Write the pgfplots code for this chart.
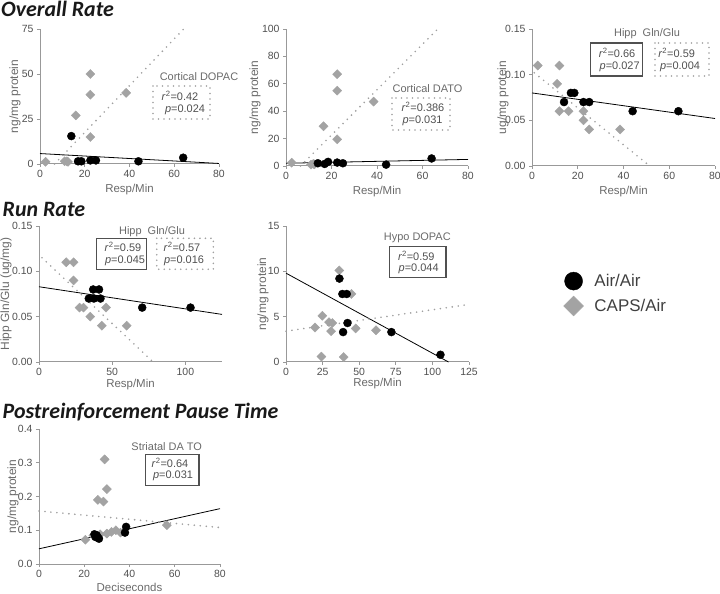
\documentclass[border=0pt]{standalone}
\usepackage{fontspec}
\setmainfont{Liberation Sans}
\newfontfamily\titlefont{Carlito}
\usepackage{pgfplots}
\pgfplotsset{compat=1.18}
\definecolor{axgray}{HTML}{999999}
\definecolor{tickgray}{HTML}{505050}
\definecolor{labgray}{HTML}{6A6A6A}
\definecolor{diagray}{HTML}{A3A3A3}
\definecolor{dotgray}{HTML}{A0A0A0}
\definecolor{boxgray}{HTML}{505050}
\pgfplotsset{
  gp/.style={
    scale only axis, axis lines=left,
    axis line style={-, draw=axgray, line width=1pt},
    tick align=outside, major tick length=3bp,
    tick style={draw=axgray, line width=0.8pt},
    tick label style={font=\fontsize{10.5}{12}\selectfont, text=tickgray},
    /pgf/number format/assume math mode=true,
    clip=false, scaled ticks=false,
    every axis x label/.style={at={(axis description cs:0.5,0)}, anchor=center, yshift=-26bp, font=\fontsize{11.5}{13}\selectfont, text=labgray},
    every axis y label/.style={at={(axis description cs:0,0.5)}, rotate=90, anchor=center, font=\fontsize{12}{14}\selectfont, text=labgray},
  },
  blk/.style={only marks, mark=*, mark size=4bp, mark options={fill=black, draw=black}},
  gry/.style={only marks, mark=square*, mark size=3.2bp, mark options={rotate=45, fill=diagray, draw=diagray}},
  sol/.style={no marks, draw=black, line width=0.8pt},
  dots/.style={no marks, draw=dotgray, line width=1.8bp, line cap=round, dash pattern=on 0bp off 6bp},
}
\tikzset{
  dbox/.style={draw=dotgray, line width=1.8bp, line cap=round, dash pattern=on 0bp off 5.5bp},
  sbox/.style={draw=boxgray, line width=1.1pt},
  ann/.style={font=\fontsize{11}{13}\selectfont, text=labgray, inner sep=0pt},
  stat/.style={font=\fontsize{11}{13}\selectfont, text=tickgray, inner sep=0pt},
  ttl/.style={font=\titlefont\bfseries\itshape\fontsize{22}{26}\selectfont, text=black!90, inner sep=0pt, anchor=base west},
}
\begin{document}
\begin{tikzpicture}
\path[use as bounding box] (0,0) rectangle (720bp,594bp);

% Titles
\node[ttl] at (1bp,577.3bp) {Overall Rate};
\node[ttl] at (2.5bp,377bp) {Run Rate};
\node[ttl] at (2.5bp,175.5bp) {Postreinforcement Pause Time};

% P1 Cortical DOPAC
\begin{axis}[gp, at={(40bp,430bp)}, anchor=south west, width=179bp, height=135bp,
  xmin=0, xmax=80, ymin=0, ymax=75, xtick={0,20,40,60,80}, ytick={0,25,50,75},
  xlabel={Resp/Min}, ylabel={ng/mg protein}, every axis y label/.append style={yshift=25bp}]
\addplot[sol] coordinates {(0,5.8) (80,0.3)};
\addplot[dots] coordinates {(6.5,0) (64.2,75)};
\addplot[gry] coordinates {(2.5,1.2) (11,1.5) (12,1.5) (12.5,1.2) (16,27) (22.5,50) (22.5,38.5) (22.5,15) (38.5,39.5)};
\addplot[blk] coordinates {(14,15.5) (17,1.5) (18.5,1.5) (22.5,2) (25,2) (44,1.5) (64,3.5)};
\end{axis}

% P2 Cortical DATO
\begin{axis}[gp, at={(286bp,428bp)}, anchor=south west, width=182bp, height=137bp,
  xmin=0, xmax=80, ymin=0, ymax=100, xtick={0,20,40,60,80}, ytick={0,20,40,60,80,100},
  xlabel={Resp/Min}, ylabel={ng/mg protein}, every axis y label/.append style={yshift=31bp}]
\addplot[sol] coordinates {(0,2) (80,4.8)};
\addplot[dots] coordinates {(6.4,0) (66.7,100)};
\addplot[gry] coordinates {(2.5,2.4) (11,1) (12,1.5) (12.5,1.2) (16.5,29) (22.5,67) (22.5,55) (22.5,19.5) (38.5,47)};
\addplot[blk] coordinates {(14,2) (17,1.5) (18.5,3) (22.5,2.5) (25,2) (44,1) (64,5.5)};
\end{axis}

% P3 Hipp Gln/Glu
\begin{axis}[gp, at={(532bp,428bp)}, anchor=south west, width=183bp, height=137bp,
  xmin=0, xmax=80, ymin=0, ymax=0.15, xtick={0,20,40,60,80}, ytick={0,0.05,0.10,0.15},
  yticklabel style={/pgf/number format/fixed, /pgf/number format/fixed zerofill, /pgf/number format/precision=2},
  xlabel={Resp/Min}, ylabel={ug/mg protein}, every axis y label/.append style={yshift=29bp}]
\addplot[sol] coordinates {(0,0.080) (80,0.052)};
\addplot[dots] coordinates {(1,0.102) (50.5,0.002)};
\addplot[gry] coordinates {(2.5,0.11) (11,0.09) (12,0.11) (12,0.06) (16,0.06) (22.5,0.06) (22.5,0.05) (25,0.04) (38.5,0.04)};
\addplot[blk] coordinates {(14,0.07) (17,0.08) (18.5,0.08) (22.5,0.07) (25,0.07) (44,0.06) (64,0.06)};
\end{axis}

% P4 Run rate Hipp Gln/Glu
\begin{axis}[gp, at={(39bp,232bp)}, anchor=south west, width=183bp, height=136bp,
  xmin=0, xmax=125, ymin=0, ymax=0.15, xtick={0,50,100}, ytick={0,0.05,0.10,0.15},
  yticklabel style={/pgf/number format/fixed, /pgf/number format/fixed zerofill, /pgf/number format/precision=2},
  xlabel={Resp/Min}, ylabel={Hipp Gln/Glu (ug/mg)}, every axis y label/.append style={yshift=33bp},
  every axis x label/.append style={yshift=3bp}]
\addplot[sol] coordinates {(0,0.083) (125,0.0525)};
\addplot[dots] coordinates {(2,0.115) (78,0)};
\addplot[gry] coordinates {(18.6,0.11) (23.6,0.11) (23.6,0.09) (27.7,0.06) (30.4,0.06) (35,0.05) (45.8,0.06) (42.9,0.04) (59.9,0.04)};
\addplot[blk] coordinates {(34,0.07) (37.5,0.07) (42,0.07) (37,0.08) (41,0.08) (70.5,0.06) (103.5,0.06)};
\end{axis}

% P5 Hypo DOPAC
\begin{axis}[gp, at={(286bp,232bp)}, anchor=south west, width=183bp, height=136bp,
  xmin=0, xmax=125, ymin=0, ymax=15, xtick={0,25,50,75,100,125}, ytick={0,5,10,15},
  xlabel={Resp/Min}, ylabel={ng/mg protein}, every axis y label/.append style={yshift=23bp},
  every axis x label/.append style={yshift=4bp},
  legend style={draw=none, fill=none, at={(axis description cs:1.50,0.50)}, anchor=west,
    font=\fontsize{17}{20}\selectfont, text=tickgray!80!black, row sep=6bp,
    /tikz/every odd column/.append style={column sep=9bp}},
  legend cell align=left]
\addplot[sol, forget plot] coordinates {(0,9.8) (111,0)};
\addplot[dots, forget plot] coordinates {(0,3.4) (125,6.35)};
\addplot[gry, forget plot] coordinates {(36.4,10.1) (44.7,7.5) (24.8,5.1) (29.4,4.4) (31.7,4.3) (19.8,3.8) (30.8,3.4) (47.6,3.7) (61.5,3.5) (24.2,0.6) (39.4,0.55)};
\addplot[blk, forget plot] coordinates {(36.5,9.2) (38.5,7.5) (41.5,7.5) (42,4.3) (39,3.3) (72,3.3) (105.5,0.8)};
\addlegendimage{only marks, mark=*, mark size=9bp, mark options={fill=black, draw=black}}
\addlegendentry{Air/Air}
\addlegendimage{only marks, mark=square*, mark size=7bp, mark options={rotate=45, fill=diagray, draw=diagray}}
\addlegendentry{CAPS/Air}
\end{axis}

% P6 Striatal DA TO
\begin{axis}[gp, at={(39bp,30bp)}, anchor=south west, width=181bp, height=135bp,
  xmin=0, xmax=80, ymin=0, ymax=0.4, xtick={0,20,40,60,80}, ytick={0,0.1,0.2,0.3,0.4},
  yticklabel style={/pgf/number format/fixed, /pgf/number format/fixed zerofill, /pgf/number format/precision=1},
  xlabel={Deciseconds}, ylabel={ng/mg protein}, every axis y label/.append style={yshift=26bp},
  every axis x label/.append style={yshift=3bp}]
\addplot[sol] coordinates {(0,0.045) (80,0.164)};
\addplot[dots] coordinates {(0,0.157) (80,0.108)};
\addplot[gry] coordinates {(20.5,0.072) (24,0.085) (27,0.088) (30,0.09) (32,0.095) (34,0.1) (36,0.093) (56.5,0.115) (26,0.19) (28.5,0.185) (29,0.31) (30,0.222)};
\addplot[blk] coordinates {(24.5,0.088) (25.5,0.085) (26,0.078) (26.5,0.075) (25,0.08) (38,0.093) (38.5,0.11)};
\end{axis}

% Annotations P1
\node[ann] at (199bp,517bp) {Cortical DOPAC};
\draw[dbox] (153bp,508bp) rectangle (210bp,475bp);
\node[stat] at (180bp,498bp) {\textit{r}\textsuperscript{2}=0.42};
\node[stat] at (185bp,484bp) {\textit{p}=0.024};
% P2
\node[ann] at (427.5bp,505bp) {Cortical DATO};
\draw[dbox] (392bp,496bp) rectangle (450bp,464bp);
\node[stat] at (423bp,487bp) {\textit{r}\textsuperscript{2}=0.386};
\node[stat] at (422.5bp,473.5bp) {\textit{p}=0.031};
% P3
\node[ann] at (647bp,560bp) {Hipp\ \ Gln/Glu};
\draw[sbox] (590.7bp,551bp) rectangle (642.7bp,518bp);
\node[stat] at (617bp,541bp) {\textit{r}\textsuperscript{2}=0.66};
\node[stat] at (619.7bp,527.3bp) {\textit{p}=0.027};
\draw[dbox] (655bp,551bp) rectangle (709bp,518bp);
\node[stat] at (676.7bp,541bp) {\textit{r}\textsuperscript{2}=0.59};
\node[stat] at (680bp,527.3bp) {\textit{p}=0.004};
% P4
\node[ann] at (152bp,362.3bp) {Hipp\ \ Gln/Glu};
\draw[sbox] (96.7bp,355.7bp) rectangle (146.7bp,324.7bp);
\node[stat] at (123bp,346.7bp) {\textit{r}\textsuperscript{2}=0.59};
\node[stat] at (125bp,333.3bp) {\textit{p}=0.045};
\draw[dbox] (156.7bp,355.7bp) rectangle (213.3bp,324.7bp);
\node[stat] at (182bp,346.7bp) {\textit{r}\textsuperscript{2}=0.57};
\node[stat] at (184bp,333.3bp) {\textit{p}=0.016};
% P5
\node[ann] at (417.3bp,356.3bp) {Hypo DOPAC};
\draw[sbox] (389.3bp,347.3bp) rectangle (446bp,316.3bp);
\node[stat] at (416.3bp,338.3bp) {\textit{r}\textsuperscript{2}=0.59};
\node[stat] at (418.7bp,324.7bp) {\textit{p}=0.044};
% P6
\node[ann] at (166.7bp,147.3bp) {Striatal DA TO};
\draw[sbox] (145.7bp,139.7bp) rectangle (199bp,108.3bp);
\node[stat] at (170bp,131bp) {\textit{r}\textsuperscript{2}=0.64};
\node[stat] at (173bp,118bp) {\textit{p}=0.031};
\end{tikzpicture}
\end{document}
